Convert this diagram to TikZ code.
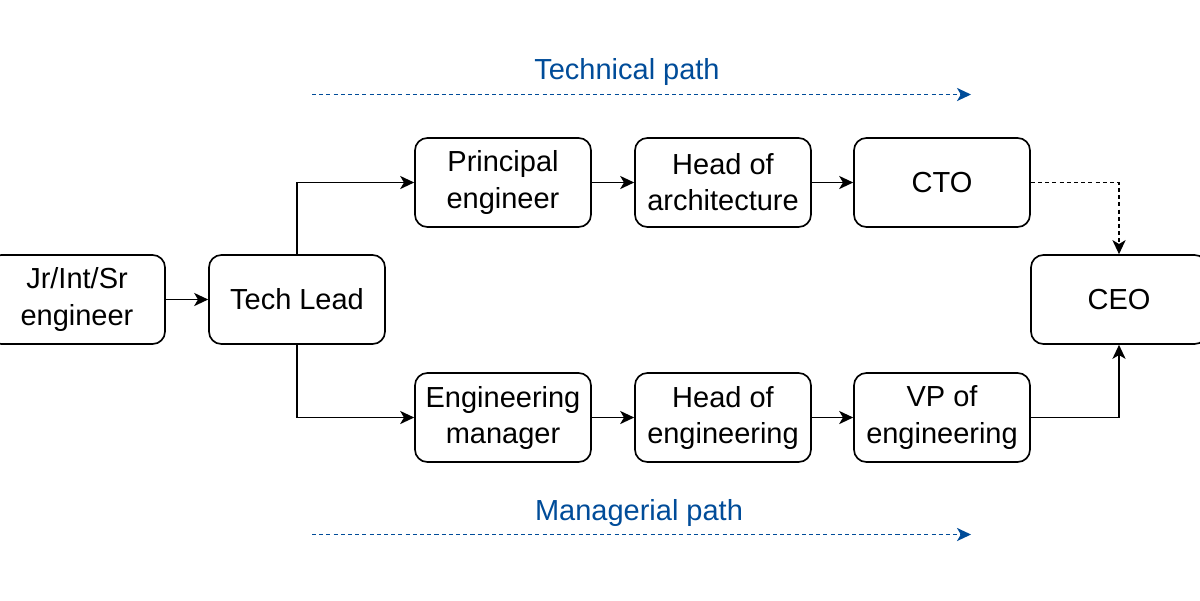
\documentclass[tikz,border=0pt]{standalone}
\usepackage{fontspec}
\setmainfont{Liberation Sans}
\usepackage{tikz}
\usetikzlibrary{arrows.meta, positioning}
\definecolor{pathblue}{HTML}{004C99}

\begin{document}
\begin{tikzpicture}[
  x=0.02cm, y=-0.02cm,
  role/.style={draw, rounded corners=7pt, minimum width=3.52cm, minimum height=1.78cm, align=center, line width=0.95pt, font=\fontsize{16.5}{20.5}\selectfont},
  arr/.style={-{Stealth[length=8pt, width=7.5pt, inset=2.2pt]}, line width=0.95pt},
  dashdash/.style={dash pattern=on 2.3pt off 1.8pt},
  track/.style={arr, pathblue, line width=0.8pt, dashdash},
  tag/.style={text=pathblue, font=\fontsize{16.5}{20}\selectfont},
]
\useasboundingbox (0,0) rectangle (1200,600);

% Roles
\node[role] (jr) at (77,299.5) {Jr/Int/Sr\\engineer};
\node[role] (lead) at (297,299.5) {Tech Lead};
\node[role] (principal) at (503,182.5) {Principal\\engineer};
\node[role] (headarch) at (723,182.5) {Head of\\architecture};
\node[role] (cto) at (942,182.5) {CTO};
\node[role] (manager) at (503,417.5) {Engineering\\manager};
\node[role] (headeng) at (723,417.5) {Head of\\engineering};
\node[role] (vp) at (942,417.5) {VP of\\engineering};
\node[role] (ceo) at (1119,299.5) {CEO};

% Path labels
\node[tag] (techlabel) at (627,72) {Technical path};
\node[tag] (mgrlabel) at (639,513) {Managerial path};
\coordinate (techstart) at (312,94.5);
\coordinate (techend) at (971,94.5);
\coordinate (mgrstart) at (312,534.5);
\coordinate (mgrend) at (971,534.5);

% Connectors
\draw[arr] (jr) -- (lead);
\draw[arr] (lead.north) |- (principal);
\draw[arr] (lead.south) |- (manager);
\draw[arr] (principal) -- (headarch);
\draw[arr] (headarch) -- (cto);
\draw[arr] (manager) -- (headeng);
\draw[arr] (headeng) -- (vp);
\draw[arr, dashdash] (cto) -| (ceo);
\draw[arr] (vp) -| (ceo);

\draw[track] (techstart) -- (techend);
\draw[track] (mgrstart) -- (mgrend);

\end{tikzpicture}
\end{document}
